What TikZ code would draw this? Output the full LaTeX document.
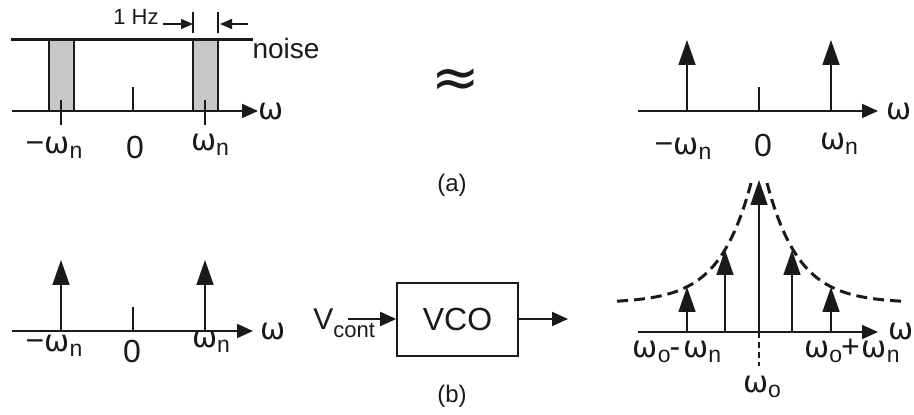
\documentclass[tikz,border=0pt]{standalone}
\usepackage{fontspec}
\setmainfont{Liberation Sans}
\newfontfamily\omfont{DejaVu Sans}
\usetikzlibrary{positioning, arrows.meta, calc}
\definecolor{bandgray}{HTML}{C8C8C8}
\definecolor{inkblack}{HTML}{1A1A1A}
\newcommand{\om}{{\omfont\fontsize{15}{15}\selectfont ω}}
\newcommand{\lowsub}[1]{\raisebox{-2.5pt}{\fontsize{11.5}{11.5}\selectfont #1}}
\newcommand{\contsub}[1]{\raisebox{-4pt}{\fontsize{11}{11}\selectfont #1}}

\begin{document}
\begin{tikzpicture}[x=0.5pt, y=-0.5pt, color=inkblack,
    axis/.style={line width=0.9pt, -{Triangle[length=8pt,width=7pt]}},
    impulse/.style={line width=0.8pt, -{Triangle[length=12.5pt,width=8.5pt]}},
    tickmark/.style={line width=0.7pt},
    lbl/.style={font=\fontsize{16}{16}\selectfont, anchor=base, inner sep=0pt},
    band/.style={fill=bandgray, draw=inkblack, line width=0.8pt},
    envelope/.style={line width=1.5pt, dash pattern=on 5.5pt off 3pt},
    blockbox/.style={draw, line width=0.8pt, minimum width=60.5pt, minimum height=36.5pt,
                     inner sep=0pt, font=\fontsize{16}{16}\selectfont},
    dimarrow/.style={line width=0.8pt, -{Triangle[length=6pt,width=5pt]}}]
  \useasboundingbox (0,0) rectangle (914,415);

  % (a) left: noise with 1 Hz bands
  \draw[band] (49,40) rectangle (74,111);
  \draw[band] (193,40) rectangle (218,111);
  \coordinate (nzs) at (11,40);
  \coordinate (nze) at (253,40);
  \draw[line width=1.5pt] (nzs) -- (nze);
  \node[font=\fontsize{14}{14}\selectfont, anchor=base, inner sep=0pt] (noise) at (286,59) {noise};
  \coordinate (ax1s) at (12,111);
  \coordinate (ax1e) at (258,111);
  \draw[axis] (ax1s) -- (ax1e);
  \node[lbl] (w1) at (271,120) {\om};
  \draw[tickmark] (61,100) -- (61,125);
  \draw[tickmark] (205,100) -- (205,125);
  \draw[tickmark] (133,87) -- (133,111);
  \node[lbl] (tl1) at (54,154) {−\om\lowsub{n}};
  \node[lbl] (tl2) at (135,159) {0};
  \node[lbl] (tl3) at (210,151) {\om\lowsub{n}};

  % 1 Hz dimension
  \coordinate (hzl) at (193,12);
  \coordinate (hzlb) at (193,33);
  \coordinate (hzr) at (218,12);
  \coordinate (hzrb) at (218,33);
  \draw[tickmark] (hzl) -- (hzlb);
  \draw[tickmark] (hzr) -- (hzrb);
  \node[font=\fontsize{11}{11}\selectfont, anchor=base, inner sep=0pt] (hz) at (136,25) {1 Hz};
  \coordinate (hza) at (163,24);
  \coordinate (hzb) at (248,24);
  \draw[dimarrow] (hza) -- (hzl |- hza);
  \draw[dimarrow] (hzb) -- ($(hzr |- hzb)+(2,0)$);

  % approx sign and caption
  \node[font=\omfont\fontsize{29}{29}\selectfont, inner sep=0pt] (approx) at (456,83) {≈};
  \node[font=\fontsize{12}{12}\selectfont, inner sep=0pt] (capa) at (452,185) {(a)};

  % (a) right: two impulses
  \coordinate (ax2s) at (638,111);
  \coordinate (ax2e) at (878,111);
  \draw[axis] (ax2s) -- (ax2e);
  \node[lbl] (w2) at (899,120) {\om};
  \foreach \px [count=\i] in {687,831} {
    \coordinate (ta\i) at (\px,111);
    \coordinate (tat\i) at (\px,40);
    \draw[impulse] (ta\i) -- (tat\i);
  }
  \draw[tickmark] (759,87) -- (759,111);
  \node[lbl] (tr1) at (683,155) {−\om\lowsub{n}};
  \node[lbl] (tr2) at (763,157) {0};
  \node[lbl] (tr3) at (839,150) {\om\lowsub{n}};

  % (b) left: two impulses
  \coordinate (ax3s) at (12,331);
  \coordinate (ax3e) at (253,331);
  \draw[axis] (ax3s) -- (ax3e);
  \node[lbl] (w3) at (273,340) {\om};
  \foreach \px [count=\i] in {61,205} {
    \coordinate (tb\i) at (\px,331);
    \coordinate (tbt\i) at (\px,260);
    \draw[impulse] (tb\i) -- (tbt\i);
  }
  \draw[tickmark] (133,307) -- (133,331);
  \node[lbl] (bl1) at (54,352) {−\om\lowsub{n}};
  \node[lbl] (bl2) at (132,363) {0};
  \node[lbl] (bl3) at (211,348) {\om\lowsub{n}};

  % VCO block
  \node[blockbox] (vco) at (457.5,319.5) {VCO};
  \node[font=\fontsize{15}{15}\selectfont, anchor=base west, inner sep=0pt] (vcont) at (313,330) {V\contsub{cont}};
  \coordinate (vin) at (348,319);
  \coordinate (vout) at (568,319);
  \draw[axis] (vin) -- (vin -| vco.west);
  \draw[axis] (vco.east |- vout) -- (vout);
  \node[font=\fontsize{12}{12}\selectfont, inner sep=0pt] (capb) at (452,396) {(b)};

  % (b) right: VCO spectrum with sidebands
  \coordinate (ax4s) at (638,332);
  \coordinate (ax4e) at (878,332);
  \draw[axis] (ax4s) -- (ax4e);
  \node[lbl] (w4) at (901,340) {\om};
  \foreach \px/\py [count=\i] in {687/287, 725/250, 759/180, 792/250, 831/287} {
    \coordinate (tc\i) at (\px,332);
    \coordinate (tct\i) at (\px,\py);
    \draw[impulse] (tc\i) -- (tct\i);
  }
  \coordinate (w0b) at (759,366);
  \draw[line width=0.6pt, dash pattern=on 3pt off 2pt] (tc3) -- (w0b);
  \draw[envelope] plot[domain=142:8, samples=60] ({759-\x}, {303-154*exp(-\x/32)});
  \draw[envelope] plot[domain=142:8, samples=60] ({759+\x}, {303-154*exp(-\x/32)});
  \node[lbl] (br1) at (677,358) {\om\lowsub{o}\kern-0.5pt-\kern1.5pt\om\lowsub{n}};
  \node[lbl] (br2) at (852,358) {\om\lowsub{o}\kern-0.5pt+\kern1pt\om\lowsub{n}};
  \node[lbl] (br3) at (762,393) {\om\lowsub{o}};
\end{tikzpicture}
\end{document}
